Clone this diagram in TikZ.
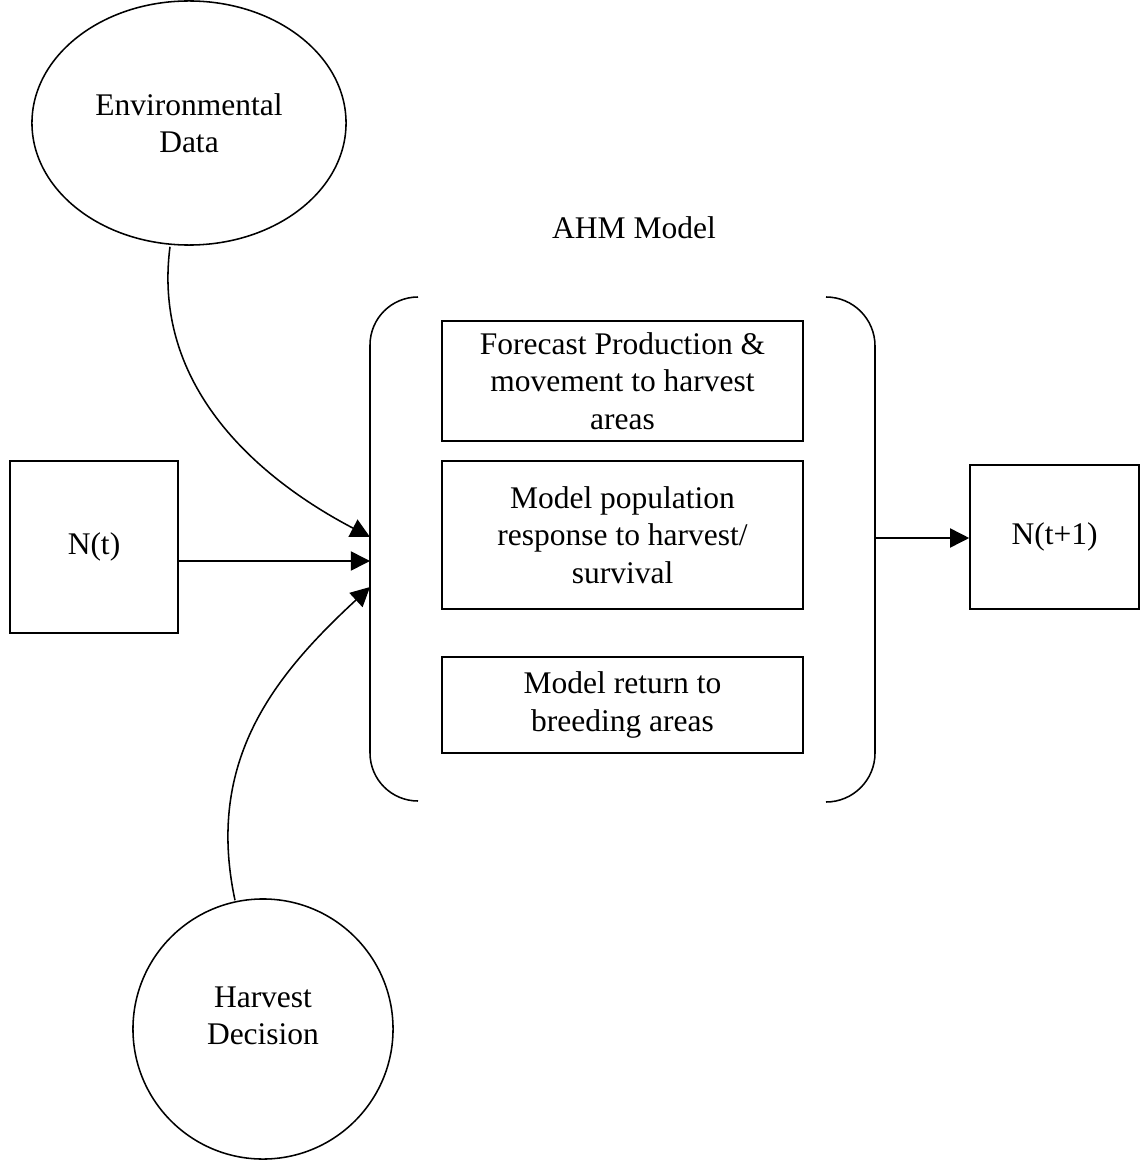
\documentclass[tikz,border=0pt]{standalone}
\usepackage{fontspec}
\setmainfont{Liberation Serif}
\usepackage{tikz}
\usetikzlibrary{calc,arrows.meta,shapes.geometric}

\begin{document}
\begin{tikzpicture}[x=0.025cm,y=-0.025cm,line width=1.1pt,
    font=\fontsize{22.4}{26.5}\selectfont,
    blk/.style={draw,rectangle,align=center,inner sep=0pt},
    bub/.style={draw,ellipse,align=center,inner sep=0pt},
    tip/.style={-{Triangle[length=0.48cm,width=0.48cm]}}]
            \useasboundingbox (0,0) rectangle (1141,1161);
            % inputs
            \node[bub,minimum width=7.85cm,minimum height=6.1cm] (env) at (189,123) {Environmental\\Data};
            \node[bub,minimum width=6.5cm,minimum height=6.5cm] (hd) at (263,1029) {};
            \node[align=center] (hdtext) at (263,1016) {Harvest\\Decision};
            \node[blk,minimum width=4.2cm,minimum height=4.3cm] (nt) at (94,547) {N(t)};
            \node[blk,minimum width=4.225cm,minimum height=3.6cm] (nt1) at (1054.5,537) {N(t+1)};
            % model
            \node at (634,228) {AHM Model};
            \node[blk,minimum width=9.025cm,minimum height=3cm] (fc) at (622.5,381) {Forecast Production \&\\movement to harvest\\areas};
            \node[blk,minimum width=9.025cm,minimum height=3.7cm] (pop) at (622.5,535) {Model population\\response to harvest/\\survival};
            \node[blk,minimum width=9.025cm,minimum height=2.4cm] (ret) at (622.5,705) {Model return to\\breeding areas};
            \draw (418,297) arc (270:180:48) -- (370,753) arc (180:90:48);
            \draw (826,297) arc (270:360:49) -- (875,753) arc (0:90:49);
            \coordinate (in1) at (370,537);
            \coordinate (in2) at (370,561);
            \coordinate (in3) at (370,587);
            \coordinate (out) at (875,538);
            % connectors
            \draw[tip] ($(env.south)+(-19,1)$) .. controls (150,400) and (280,490) .. (in1);
            \draw[tip] (nt.east |- in2) -- (in2);
            \draw[tip] ($(hd.north)+(-28,2)$) .. controls (205,760) and (275,675) .. (in3);
            \draw[tip] (out) -- (nt1.west |- out);
        \end{tikzpicture}
\end{document}
